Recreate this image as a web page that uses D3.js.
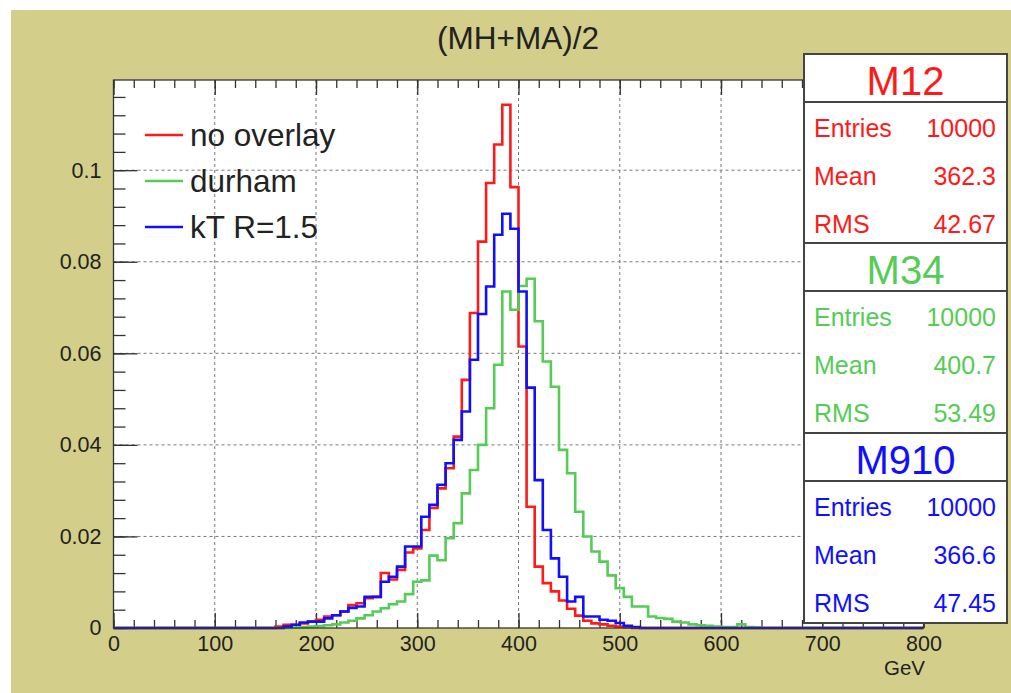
<!DOCTYPE html>
<html lang="en">
<head>
<meta charset="UTF-8">
<script src="https://cdnjs.cloudflare.com/ajax/libs/d3/7.8.4/d3.min.js"></script>
<title>(MH+MA)/2</title>
<style>
  body { margin: 0; background: #fff; }
  svg text { font-family: "Liberation Sans", Arial, sans-serif; }
</style>
</head>
<body>
<script>
// histogram: 100 bins of 8 GeV from 0 to 800, values given for bins 20..79 (160-640 GeV), zero elsewhere
const nBins = 100
const binWidth = 8
const firstBin = 20

const noOverlay = [
  .0003, .0007, .0007, .0010, .0014, .0018, .0025, .0028, .0036, .0050,
  .0054, .0065, .0068, .0120, .0106, .0127, .0165, .0174, .0214, .0262,
  .0305, .0349, .0418, .0542, .0688, .0844, .0972, .1056, .1143, .0963,
  .0615, .0265, .0134, .0098, .0080, .0060, .0042, .0027, .0016, .0010,
  .0008, .0005, .0003, .0002, 0, 0, 0, 0, 0, 0,
  0, 0, 0, 0, 0, 0, 0, 0, 0, 0
]
const durham = [
  0, 0, .0001, .0002, .0003, .0004, .0006, .0008, .0012, .0016,
  .0021, .0028, .0036, .0043, .0052, .0058, .0074, .0101, .0104, .0158,
  .0148, .0196, .0229, .0294, .0345, .0400, .0480, .0575, .0735, .0695,
  .0747, .0763, .0670, .0582, .0527, .0389, .0338, .0254, .0200, .0167,
  .0145, .0115, .0087, .0068, .0047, .0047, .0025, .0022, .0020, .0014,
  .0012, .0008, .0006, .0005, .0003, .0002, .0002, .0008, .0002, .0001
]
const ktR15 = [
  0, .0003, .0007, .0012, .0014, .0014, .0021, .0028, .0036, .0044,
  .0047, .0068, .0068, .0101, .0112, .0134, .0178, .0178, .0243, .0269,
  .0313, .0360, .0411, .0473, .0586, .0686, .0746, .0859, .0905, .0872,
  .0735, .0525, .0323, .0214, .0152, .0112, .0058, .0068, .0025, .0025,
  .0018, .0016, .0011, .0005, .0002, 0, 0, 0, 0, 0,
  0, 0, 0, 0, 0, 0, 0, 0, 0, 0
]

const seriesNames = ["no overlay", "durham", "kT R=1.5"]
const seriesColors = ["#ff1a1a", "#55cc55", "#1010ff"]
const statNames = ["M12", "M34", "M910"]
const statEntries = ["10000", "10000", "10000"]
const statMean = ["362.3", "400.7", "366.6"]
const statRms = ["42.67", "53.49", "47.45"]

const xMax = 800
const yMax = 0.1197
const xMajor = [0, 100, 200, 300, 400, 500, 600, 700, 800]
const yMajor = [0, 0.02, 0.04, 0.06, 0.08, 0.1]

const W = 1011, H = 693
const pLeft = 113.5, pRight = 923.5, pTop = 80, pBottom = 628

let svg = d3.select("body").append("svg")
  .attr("width", W)
  .attr("height", H)

// canvas background
svg.append("rect")
  .attr("x", 11).attr("y", 10)
  .attr("width", W - 11).attr("height", H - 10)
  .attr("fill", "#d3ce8a")

let x = d3.scaleLinear().domain([0, xMax]).range([pLeft, pRight])
let y = d3.scaleLinear().domain([0, yMax]).range([pBottom, pTop])

svg.append("rect")
  .attr("x", pLeft).attr("y", pTop)
  .attr("width", pRight - pLeft).attr("height", pBottom - pTop)
  .attr("fill", "#fff")

// grid
let grid = svg.append("g")
  .attr("stroke", "#777")
  .attr("stroke-width", 1)
  .attr("stroke-dasharray", "3,3")
grid.selectAll("line.gx").data(xMajor.slice(1, -1)).enter().append("line")
  .attr("x1", d => x(d)).attr("x2", d => x(d))
  .attr("y1", pTop).attr("y2", pBottom)
grid.selectAll("line.gy").data(yMajor.slice(1)).enter().append("line")
  .attr("x1", pLeft).attr("x2", pRight)
  .attr("y1", d => y(d)).attr("y2", d => y(d))

// axes
const fmtY = d => d === 0 ? "0" : d3.format(".2~f")(d)
let yMinor = d3.range(0, 31).map(i => i * 0.004).filter(v => v <= yMax)
let xMinor = d3.range(0, 41).map(i => i * 20)

svg.append("g")
  .attr("transform", `translate(${pLeft},0)`)
  .call(d3.axisLeft(y).tickValues(yMajor).tickSize(-24).tickPadding(12).tickFormat(fmtY))
svg.append("g")
  .attr("transform", `translate(${pLeft},0)`)
  .call(d3.axisLeft(y).tickValues(yMinor).tickSize(-12).tickFormat(""))

svg.append("g")
  .attr("transform", `translate(0,${pBottom})`)
  .call(d3.axisBottom(x).tickValues(xMajor).tickSize(-15).tickPadding(8).tickFormat(d3.format("d")))
svg.append("g")
  .attr("transform", `translate(0,${pBottom})`)
  .call(d3.axisBottom(x).tickValues(xMinor).tickSize(-8).tickFormat(""))
svg.append("g")
  .attr("transform", `translate(0,${pTop})`)
  .call(d3.axisTop(x).tickValues(xMajor).tickSize(-15).tickFormat(""))
svg.append("g")
  .attr("transform", `translate(0,${pTop})`)
  .call(d3.axisTop(x).tickValues(xMinor).tickSize(-8).tickFormat(""))

svg.selectAll(".domain").remove()
svg.selectAll(".tick line").attr("stroke", "#333").attr("stroke-width", 1.3)
svg.selectAll(".tick text").attr("font-size", 21.5).attr("fill", "#222")
  .attr("font-family", "Liberation Sans, Arial, sans-serif")

// histograms
function fullBins(vals) {
  let out = []
  for (let i = 0; i < nBins; i++) {
    let j = i - firstBin
    out.push(j >= 0 && j < vals.length ? vals[j] : 0)
  }
  return out
}
let allSeries = [noOverlay, durham, ktR15].map(fullBins)

svg.append("clipPath").attr("id", "plotclip")
  .append("rect").attr("x", pLeft).attr("y", pTop - 2)
  .attr("width", pRight - pLeft).attr("height", pBottom - pTop + 4)

let step = d3.line()
  .x(d => x(d[0]))
  .y(d => y(d[1]))
  .curve(d3.curveStepAfter)

let hists = svg.append("g").attr("clip-path", "url(#plotclip)")
allSeries.forEach((vals, s) => {
  let pts = vals.map((v, i) => [i * binWidth, v])
  pts.push([nBins * binWidth, vals[nBins - 1]])
  hists.append("path")
    .attr("d", step(pts))
    .attr("fill", "none")
    .attr("stroke", seriesColors[s])
    .attr("stroke-width", 2.6)
})

// frame
svg.append("rect")
  .attr("x", pLeft).attr("y", pTop)
  .attr("width", pRight - pLeft).attr("height", pBottom - pTop)
  .attr("fill", "none")
  .attr("stroke", "#333")
  .attr("stroke-width", 1.3)

// legend
let legend = svg.append("g")
seriesNames.forEach((name, i) => {
  let ly = 135 + i * 46
  legend.append("line")
    .attr("x1", 145).attr("x2", 183)
    .attr("y1", ly).attr("y2", ly)
    .attr("stroke", seriesColors[i])
    .attr("stroke-width", 2.6)
  legend.append("text")
    .attr("x", 190).attr("y", ly + 11)
    .attr("font-size", 31.5)
    .attr("fill", "#222")
    .text(name)
})

// title
svg.append("text")
  .attr("x", 518).attr("y", 49)
  .attr("text-anchor", "middle")
  .attr("font-size", 31.5)
  .attr("fill", "#222")
  .text("(MH+MA)/2")

svg.append("text")
  .attr("x", 925).attr("y", 675)
  .attr("text-anchor", "end")
  .attr("font-size", 20.5)
  .attr("fill", "#222")
  .text("GeV")

// stat boxes
const boxX0 = 804, boxX1 = 1007
const boxTops = [54, 243, 433]
const boxH = 190, headH = 48
statNames.forEach((name, i) => {
  let t = boxTops[i]
  let g = svg.append("g")
  g.append("rect")
    .attr("x", boxX0).attr("y", t)
    .attr("width", boxX1 - boxX0).attr("height", boxH)
    .attr("fill", "#fff")
    .attr("stroke", "#444")
    .attr("stroke-width", 2)
  g.append("line")
    .attr("x1", boxX0).attr("x2", boxX1)
    .attr("y1", t + headH).attr("y2", t + headH)
    .attr("stroke", "#444")
    .attr("stroke-width", 2)
  g.append("text")
    .attr("x", (boxX0 + boxX1) / 2).attr("y", t + 41)
    .attr("text-anchor", "middle")
    .attr("font-size", 40)
    .attr("fill", seriesColors[i])
    .text(name)
  let rows = [["Entries", statEntries[i]], ["Mean", statMean[i]], ["RMS", statRms[i]]]
  rows.forEach((r, k) => {
    let by = t + 83 + k * 48
    g.append("text")
      .attr("x", boxX0 + 10).attr("y", by)
      .attr("font-size", 25)
      .attr("fill", seriesColors[i])
      .text(r[0])
    g.append("text")
      .attr("x", boxX1 - 11).attr("y", by)
      .attr("text-anchor", "end")
      .attr("font-size", 25)
      .attr("fill", seriesColors[i])
      .text(r[1])
  })
})
</script>
</body>
</html>
